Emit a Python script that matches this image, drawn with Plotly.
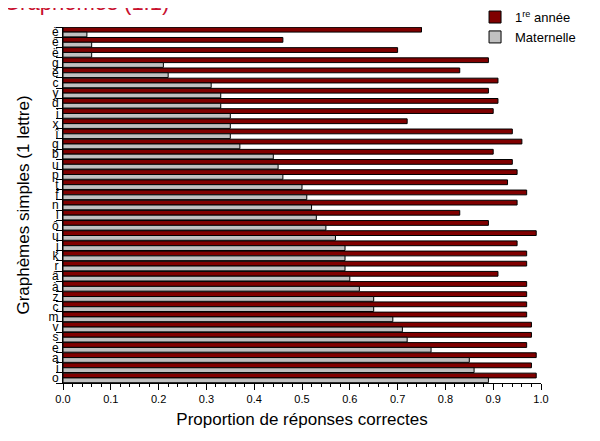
import plotly.graph_objects as go

# Categories listed top to bottom as shown in the chart
graphemes = ["è", "ê", "ë", "g", "é", "c", "y", "d", "i", "x", "î", "g", "b", "u", "p",
             "t", "f", "n", "l", "ô", "u", "j", "k", "r", "â", "à", "z", "c", "m", "v",
             "s", "e", "a", "i", "o"]

premiere_annee = [0.75, 0.46, 0.70, 0.89, 0.83, 0.91, 0.89, 0.91, 0.90, 0.72, 0.94, 0.96,
                  0.90, 0.94, 0.95, 0.93, 0.97, 0.95, 0.83, 0.89, 0.99, 0.95, 0.97, 0.97,
                  0.91, 0.97, 0.97, 0.97, 0.97, 0.98, 0.98, 0.97, 0.99, 0.98, 0.99]

maternelle = [0.05, 0.06, 0.06, 0.21, 0.22, 0.31, 0.33, 0.33, 0.35, 0.35, 0.35, 0.37,
              0.44, 0.45, 0.46, 0.50, 0.51, 0.52, 0.53, 0.55, 0.57, 0.59, 0.59, 0.59,
              0.60, 0.62, 0.65, 0.65, 0.69, 0.71, 0.72, 0.77, 0.85, 0.86, 0.89]

x_ticks = [0.0, 0.1, 0.2, 0.3, 0.4, 0.5, 0.6, 0.7, 0.8, 0.9, 1.0]

pos = list(range(len(graphemes)))
FONT = "Arial, Liberation Sans, sans-serif"

fig = go.Figure()
fig.add_trace(go.Bar(
    y=pos, x=premiere_annee, orientation="h", name="1<sup>re</sup> année",
    marker=dict(color="#800000", line=dict(color="black", width=1)),
))
fig.add_trace(go.Bar(
    y=pos, x=maternelle, orientation="h", name="Maternelle",
    marker=dict(color="#C0C0C0", line=dict(color="black", width=1)),
))

fig.update_layout(
    width=600, height=441,
    margin=dict(l=55, r=67, t=19, b=66, autoexpand=False),
    paper_bgcolor="white", plot_bgcolor="white",
    barmode="group", bargap=0.06, bargroupgap=0.0,
    font=dict(family=FONT, color="black"),
    legend=dict(x=0.862, y=1.07, xanchor="left", yanchor="top",
                font=dict(size=13, family=FONT), bgcolor="rgba(255,255,255,0)",
                tracegroupgap=0, itemwidth=30),
    xaxis=dict(
        range=[0, 1.0], tickvals=x_ticks, ticktext=[f"{v:.1f}" for v in x_ticks],
        showline=True, linecolor="black", linewidth=1, mirror=False,
        ticks="outside", ticklen=6, tickcolor="black",
        minor=dict(ticks="outside", ticklen=3, dtick=0.02, tick0=0, tickcolor="black"),
        showgrid=False, zeroline=False, automargin=False,
        tickfont=dict(size=11),
        title=dict(text="Proportion de réponses correctes", font=dict(size=17), standoff=8),
    ),
    yaxis=dict(
        range=[len(graphemes) - 0.5, -0.5],
        tickvals=pos, ticktext=graphemes, ticks="",
        minor=dict(ticks="outside", ticklen=6, dtick=1, tick0=0.5, tickcolor="black", showgrid=False),
        showline=True, linecolor="black", linewidth=1,
        showgrid=False, zeroline=False, automargin=False,
        tickfont=dict(size=12), ticklabelstandoff=1,
        title=dict(text="Graphèmes simples (1 lettre)", font=dict(size=17), standoff=14),
    ),
)

fig.add_annotation(
    text="Graphèmes (1:1)", xref="paper", yref="paper", x=-0.13, y=1.028,
    xanchor="left", yanchor="bottom", showarrow=False,
    font=dict(size=22, color="#C8102E", family=FONT),
)

fig.write_html("out.html")
